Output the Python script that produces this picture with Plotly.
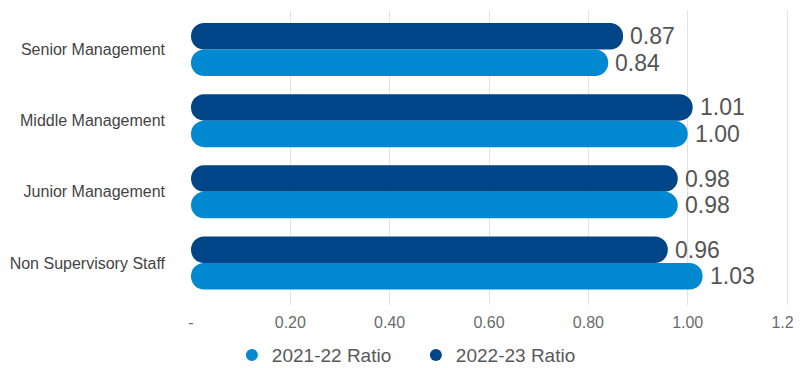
import plotly.graph_objects as go

categories = ["Senior Management", "Middle Management", "Junior Management", "Non Supervisory Staff"]
ratio_2021_22 = [0.84, 1.00, 0.98, 1.03]
ratio_2022_23 = [0.87, 1.01, 0.98, 0.96]
x_ticks = [0, 0.2, 0.4, 0.6, 0.8, 1.0, 1.2]
x_tick_labels = ["-", "0.20", "0.40", "0.60", "0.80", "1.00", "1.20"]

LIGHT = "#0089d1"
DARK = "#004587"
FONT = "Liberation Sans"
BAR_W = 0.372

# top category first
ypos = list(range(len(categories) - 1, -1, -1))
zeros = [0] * len(categories)

fig = go.Figure()

# explicit base -> plotly rounds both ends of the bar
fig.add_trace(go.Bar(orientation="h", y=ypos, x=ratio_2022_23, base=zeros, width=BAR_W, offset=0,
                     marker=dict(color=DARK, cornerradius="50%", line_width=0),
                     showlegend=False, hoverinfo="skip"))
fig.add_trace(go.Bar(orientation="h", y=ypos, x=ratio_2021_22, base=zeros, width=BAR_W, offset=-BAR_W,
                     marker=dict(color=LIGHT, cornerradius="50%", line_width=0),
                     showlegend=False, hoverinfo="skip"))

# legend entries with round markers
for name, color in [("2021-22 Ratio", LIGHT), ("2022-23 Ratio", DARK)]:
    fig.add_trace(go.Scatter(x=[None], y=[None], mode="markers", name=name,
                             marker=dict(color=color, size=14, symbol="circle")))

annotations = []
for y, v in zip(ypos, ratio_2022_23):
    annotations.append(dict(x=v, y=y + BAR_W / 2, text=f"{v:.2f}", xanchor="left", yanchor="middle",
                            xshift=5, showarrow=False, font=dict(size=23, color="#555555", family=FONT)))
for y, v in zip(ypos, ratio_2021_22):
    annotations.append(dict(x=v, y=y - BAR_W / 2, text=f"{v:.2f}", xanchor="left", yanchor="middle",
                            xshift=5, showarrow=False, font=dict(size=23, color="#555555", family=FONT)))

fig.update_layout(
    width=794, height=360,
    barmode="overlay",
    paper_bgcolor="white", plot_bgcolor="white",
    font=dict(family=FONT, color="#595959", size=16),
    margin=dict(l=183, r=10, t=2, b=63, autoexpand=False),
    annotations=annotations,
    legend=dict(orientation="h", x=0.068, xanchor="left", y=-0.17, yanchor="middle",
                font=dict(size=19, color="#595959"), itemsizing="constant", itemwidth=30,
                entrywidth=139, traceorder="normal"),
    xaxis=dict(range=[0, 1.21], tickvals=x_ticks, ticktext=x_tick_labels, showgrid=True,
               gridcolor="#e3e3e3", gridwidth=1, zeroline=False, showline=False, automargin=False,
               ticklabeloverflow="allow",
               tickfont=dict(size=16, color="#6b6b6b"), ticklabelstandoff=6),
    yaxis=dict(range=[-0.59, 3.555], tickvals=ypos, ticktext=categories, showgrid=False,
               zeroline=False, showline=False, automargin=False,
               tickfont=dict(size=16, color="#444444"), ticklabelstandoff=25),
)

fig.write_html("out.html")
